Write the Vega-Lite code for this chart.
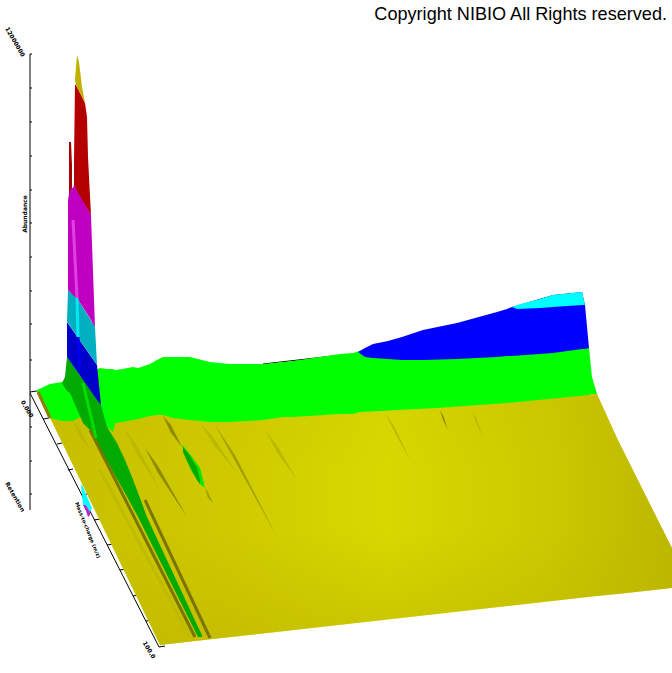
{
"$schema":"https://vega.github.io/schema/vega-lite/v6.json",
"width":672,"height":673,"padding":0,"autosize":{"type":"fit","contains":"padding"},
"background":"white","config":{"view":{"stroke":null}},
"datasets":{
"axes":[
{"x":30,"y":54,"x2":30,"y2":510},{"x":30,"y":393,"x2":159,"y2":647},{"x":30,"y":392,"x2":37,"y2":391},{"x":263,"y":364,"x2":333,"y2":356},
{"x":30,"y":54,"x2":32,"y2":54},{"x":30,"y":88,"x2":32,"y2":88},{"x":30,"y":122,"x2":32,"y2":122},{"x":30,"y":156,"x2":32,"y2":156},{"x":30,"y":190,"x2":32,"y2":190},{"x":30,"y":223,"x2":32,"y2":223},{"x":30,"y":257,"x2":32,"y2":257},{"x":30,"y":291,"x2":32,"y2":291},{"x":30,"y":324,"x2":32,"y2":324},{"x":30,"y":360,"x2":32,"y2":360},{"x":30,"y":427,"x2":32,"y2":427},{"x":30,"y":461,"x2":32,"y2":461},{"x":30,"y":494,"x2":32,"y2":494},
{"x":43,"y":419,"x2":49,"y2":418},{"x":57,"y":444,"x2":62,"y2":443},{"x":68,"y":470,"x2":73,"y2":469},{"x":82,"y":495,"x2":87,"y2":494},{"x":94,"y":520,"x2":100,"y2":519},{"x":107,"y":545,"x2":113,"y2":544},{"x":120,"y":570,"x2":126,"y2":569},{"x":133,"y":596,"x2":139,"y2":595},{"x":146,"y":621,"x2":152,"y2":620},{"x":159,"y":647,"x2":165,"y2":646}
],
"floor":[
{"x":37,"y":391,"y2":391},{"x":160,"y":405,"y2":645},{"x":213,"y":410,"y2":639},{"x":597,"y":394,"y2":596},{"x":618,"y":440,"y2":594},{"x":672,"y":548,"y2":588}
],
"lens":[
{"id":"a","kind":"strong","x":163,"y":416,"y2":416},{"id":"a","kind":"strong","x":171,"y":425,"y2":433},{"id":"a","kind":"strong","x":182,"y":447,"y2":447},
{"id":"b","kind":"strong","x":145,"y":448,"y2":448},{"id":"b","kind":"strong","x":158,"y":466,"y2":473},{"id":"b","kind":"strong","x":187,"y":517,"y2":517},
{"id":"c","kind":"mid","x":215,"y":425,"y2":425},{"id":"c","kind":"mid","x":235,"y":455,"y2":461},{"id":"c","kind":"mid","x":277,"y":537,"y2":537},
{"id":"d","kind":"faint","x":200,"y":423,"y2":423},{"id":"d","kind":"faint","x":213,"y":437,"y2":444},{"id":"d","kind":"faint","x":237,"y":473,"y2":473},
{"id":"e","kind":"faint","x":265,"y":430,"y2":430},{"id":"e","kind":"faint","x":278,"y":447,"y2":454},{"id":"e","kind":"faint","x":297,"y":480,"y2":480},
{"id":"f","kind":"faint","x":124,"y":428,"y2":428},{"id":"f","kind":"faint","x":136,"y":444,"y2":452},{"id":"f","kind":"faint","x":160,"y":490,"y2":490},
{"id":"g","kind":"faint","x":130,"y":440,"y2":440},{"id":"g","kind":"faint","x":140,"y":452,"y2":459},{"id":"g","kind":"faint","x":155,"y":480,"y2":480},
{"id":"h","kind":"strong","x":440,"y":410,"y2":410},{"id":"h","kind":"strong","x":443,"y":415,"y2":420},{"id":"h","kind":"strong","x":448,"y":430,"y2":430},
{"id":"i","kind":"faint","x":473,"y":413,"y2":413},{"id":"i","kind":"faint","x":476,"y":417,"y2":423},{"id":"i","kind":"faint","x":483,"y":437,"y2":437},
{"id":"j","kind":"mid","x":205,"y":488,"y2":488},{"id":"j","kind":"mid","x":208,"y":492,"y2":498},{"id":"j","kind":"mid","x":213,"y":503,"y2":503},
{"id":"k","kind":"faint","x":73,"y":421,"y2":421},{"id":"k","kind":"faint","x":80,"y":429,"y2":437},{"id":"k","kind":"faint","x":90,"y":450,"y2":450},
{"id":"l","kind":"faint","x":385,"y":412,"y2":412},{"id":"l","kind":"faint","x":395,"y":428,"y2":433},{"id":"l","kind":"faint","x":410,"y":460,"y2":460}
],
"parts":[
{"part":"wall","x":37,"y":390,"y2":391},{"part":"wall","x":50,"y":384,"y2":418},{"part":"wall","x":62,"y":382,"y2":421},{"part":"wall","x":73,"y":380,"y2":421},{"part":"wall","x":100,"y":368,"y2":407},{"part":"wall","x":107,"y":369,"y2":427},{"part":"wall","x":113,"y":369,"y2":432},{"part":"wall","x":115,"y":370,"y2":423},{"part":"wall","x":117,"y":370,"y2":423},{"part":"wall","x":133,"y":367,"y2":420},{"part":"wall","x":138,"y":368,"y2":419},{"part":"wall","x":150,"y":364,"y2":416},{"part":"wall","x":157,"y":360,"y2":415},{"part":"wall","x":163,"y":357,"y2":415},{"part":"wall","x":173,"y":357,"y2":418},{"part":"wall","x":190,"y":357,"y2":420},{"part":"wall","x":210,"y":362,"y2":422},{"part":"wall","x":230,"y":364,"y2":422},{"part":"wall","x":247,"y":364,"y2":421},{"part":"wall","x":263,"y":364,"y2":420},{"part":"wall","x":283,"y":362,"y2":417},{"part":"wall","x":293,"y":361,"y2":417},{"part":"wall","x":340,"y":354,"y2":414},{"part":"wall","x":353,"y":353,"y2":414},{"part":"wall","x":360,"y":351,"y2":412},{"part":"wall","x":437,"y":340,"y2":408},{"part":"wall","x":507,"y":340,"y2":403},{"part":"wall","x":589,"y":348,"y2":395},{"part":"wall","x":592,"y":377,"y2":394},{"part":"wall","x":597,"y":394,"y2":394},
{"part":"blue","x":358,"y":352,"y2":352},{"part":"blue","x":365,"y":348,"y2":357},{"part":"blue","x":373,"y":344,"y2":358},{"part":"blue","x":388,"y":341,"y2":359},{"part":"blue","x":402,"y":337,"y2":360},{"part":"blue","x":423,"y":330,"y2":360},{"part":"blue","x":457,"y":323,"y2":359},{"part":"blue","x":497,"y":312,"y2":357},{"part":"blue","x":507,"y":309,"y2":356},{"part":"blue","x":512,"y":307,"y2":356},{"part":"blue","x":553,"y":295,"y2":353},{"part":"blue","x":582,"y":292,"y2":349},{"part":"blue","x":585,"y":305,"y2":349},{"part":"blue","x":589,"y":348,"y2":348},
{"part":"cyan","x":512,"y":307,"y2":307},{"part":"cyan","x":517,"y":305,"y2":309},{"part":"cyan","x":540,"y":299,"y2":308},{"part":"cyan","x":553,"y":295,"y2":307},{"part":"cyan","x":582,"y":292,"y2":305},{"part":"cyan","x":585,"y":305,"y2":305},
{"part":"blob","x":182,"y":445,"y2":445},{"part":"blob","x":185,"y":448,"y2":457},{"part":"blob","x":192,"y":457,"y2":472},{"part":"blob","x":200,"y":468,"y2":484},{"part":"blob","x":205,"y":488,"y2":488},
{"part":"blobDark","x":183,"y":447,"y2":452},{"part":"blobDark","x":190,"y":456,"y2":467},{"part":"blobDark","x":197,"y":468,"y2":480},{"part":"blobDark","x":200,"y":480,"y2":484},
{"part":"darkGreen","x":62,"y":383,"y2":383},{"part":"darkGreen","x":65,"y":377,"y2":388},{"part":"darkGreen","x":67,"y":357,"y2":391},{"part":"darkGreen","x":70,"y":361,"y2":393},{"part":"darkGreen","x":83,"y":380,"y2":423},{"part":"darkGreen","x":90,"y":390,"y2":430},{"part":"darkGreen","x":101,"y":405,"y2":450},{"part":"darkGreen","x":107,"y":427,"y2":461},{"part":"darkGreen","x":117,"y":443,"y2":479},{"part":"darkGreen","x":125,"y":460,"y2":493},{"part":"darkGreen","x":132,"y":477,"y2":506},{"part":"darkGreen","x":137,"y":490,"y2":515},{"part":"darkGreen","x":147,"y":517,"y2":535},{"part":"darkGreen","x":166,"y":558,"y2":573},{"part":"darkGreen","x":173,"y":573,"y2":587},{"part":"darkGreen","x":198,"y":627,"y2":637},{"part":"darkGreen","x":202,"y":635,"y2":637},
{"part":"navy","x":67,"y":322,"y2":357},{"part":"navy","x":97,"y":365,"y2":400},{"part":"navy","x":101,"y":405,"y2":405},
{"part":"teal","x":67,"y":322,"y2":322},{"part":"teal","x":68,"y":290,"y2":323},{"part":"teal","x":77,"y":298,"y2":336},{"part":"teal","x":95,"y":327,"y2":362},{"part":"teal","x":97,"y":365,"y2":365},
{"part":"magenta","x":68,"y":200,"y2":290},{"part":"magenta","x":70,"y":188,"y2":292},{"part":"magenta","x":73,"y":188,"y2":295},{"part":"magenta","x":74,"y":185,"y2":296},{"part":"magenta","x":77,"y":190,"y2":298},{"part":"magenta","x":91,"y":215,"y2":320},{"part":"magenta","x":93,"y":271,"y2":324},{"part":"magenta","x":95,"y":327,"y2":327},
{"part":"red","x":74,"y":160,"y2":185},{"part":"red","x":75,"y":85,"y2":187},{"part":"red","x":76,"y":85,"y2":189},{"part":"red","x":85,"y":103,"y2":205},{"part":"red","x":87,"y":117,"y2":208},{"part":"red","x":88,"y":157,"y2":210},{"part":"red","x":91,"y":215,"y2":215},
{"part":"spike","x":69,"y":142,"y2":195},{"part":"spike","x":71,"y":142,"y2":188},{"part":"spike","x":72,"y":165,"y2":188},
{"part":"gold","x":75,"y":80,"y2":80},{"part":"gold","x":76,"y":67,"y2":85},{"part":"gold","x":77,"y":55,"y2":87},{"part":"gold","x":79,"y":62,"y2":91},{"part":"gold","x":82,"y":87,"y2":97},{"part":"gold","x":85,"y":103,"y2":103},
{"part":"sliverCyan","x":81,"y":484,"y2":484},{"part":"sliverCyan","x":83,"y":487,"y2":505},{"part":"sliverCyan","x":90,"y":504,"y2":512},{"part":"sliverCyan","x":92,"y":508,"y2":508},
{"part":"sliverMagenta","x":83,"y":505,"y2":505},{"part":"sliverMagenta","x":86,"y":505,"y2":511},{"part":"sliverMagenta","x":88,"y":509,"y2":517},{"part":"sliverMagenta","x":90,"y":512,"y2":515}
],
"streaks":[
{"kind":"edge","x":90,"y":430,"x2":195,"y2":637},{"kind":"edge","x":145,"y":500,"x2":210,"y2":638},{"kind":"rim","x":38,"y":392,"x2":50,"y2":418},
{"kind":"soft","x":100,"y":470,"x2":190,"y2":637},
{"kind":"hiMagenta","x":73,"y":220,"x2":77,"y2":298},{"kind":"hiCyan","x":77,"y":298,"x2":78,"y2":337},{"kind":"hiBlue","x":78,"y":337,"x2":80,"y2":370},{"kind":"hiGreen","x":83,"y":383,"x2":96,"y2":438}
],
"labels60":[{"t":"12000000","x":15,"y":42},{"t":"0.000","x":27,"y":409},{"t":"Retention","x":15,"y":497},{"t":"100.0","x":149,"y":650}],
"labels68":[{"t":"Mass-to-charge (m/z)","x":88,"y":530}],
"labels270":[{"t":"Abundance","x":25,"y":214}]
},
"encoding":{
"x":{"field":"x","type":"quantitative","scale":{"domain":[0,672],"nice":false,"zero":false},"axis":null},
"y":{"field":"y","type":"quantitative","scale":{"domain":[0,673],"reverse":true,"nice":false,"zero":false},"axis":null}
},
"layer":[
{"data":{"name":"axes"},"mark":{"type":"rule","color":"black","strokeWidth":1},"encoding":{"x2":{"field":"x2"},"y2":{"field":"y2"}}},
{"data":{"name":"floor"},"mark":{"type":"area","interpolate":"linear","color":{"gradient":"linear","x1":0,"y1":0,"x2":1,"y2":0,"stops":[{"offset":0,"color":"#c6be00"},{"offset":0.3,"color":"#cfca00"},{"offset":0.55,"color":"#d8d800"},{"offset":0.8,"color":"#cdc900"},{"offset":1,"color":"#bdb700"}]}},"encoding":{"y2":{"field":"y2"}}},
{"data":{"name":"floor"},"mark":{"type":"area","interpolate":"linear","color":{"gradient":"linear","x1":0,"y1":0,"x2":0,"y2":1,"stops":[{"offset":0,"color":"rgba(190,182,0,0.12)"},{"offset":0.3,"color":"rgba(190,182,0,0)"},{"offset":0.55,"color":"rgba(190,182,0,0)"},{"offset":1,"color":"rgba(190,182,0,0.6)"}]}},"encoding":{"y2":{"field":"y2"}}},
{"data":{"name":"lens"},"mark":{"type":"area","interpolate":"linear"},"encoding":{"y2":{"field":"y2"},"detail":{"field":"id"},
"color":{"field":"kind","type":"nominal","legend":null,"scale":{"domain":["strong","mid","faint"],"range":["#8f8a00","#a5a000","#bcb800"]}}}},
{"data":{"name":"parts"},"mark":{"type":"area","interpolate":"linear"},"encoding":{"y2":{"field":"y2"},
"color":{"field":"part","type":"nominal","legend":null,"scale":{"domain":["wall","blue","cyan","blob","blobDark","darkGreen","navy","teal","magenta","red","spike","gold","sliverCyan","sliverMagenta"],"range":["#00ff00","#0000ff","#00ffff","#00e800","#00a800","#00aa00","#0000c8","#00b0c0","#c000c0","#b40000","#a80000","#c0b000","#00ffff","#c020d0"]}}}},
{"data":{"name":"streaks"},"mark":{"type":"rule"},"encoding":{"x2":{"field":"x2"},"y2":{"field":"y2"},
"color":{"field":"kind","type":"nominal","legend":null,"scale":{"domain":["edge","rim","soft","hiMagenta","hiCyan","hiBlue","hiGreen"],"range":["#7a7400","#8a8000","#c0ba00","#e040e0","#00e8f0","#0000f0","#00e000"]}},
"strokeWidth":{"field":"kind","type":"nominal","legend":null,"scale":{"domain":["edge","rim","soft","hiMagenta","hiCyan","hiBlue","hiGreen"],"range":[3,3,2,1,1,1,2]}}}},
{"data":{"name":"labels60"},"mark":{"type":"text","angle":60,"font":"DejaVu Sans","fontWeight":"bold","fontSize":6,"align":"center","baseline":"middle","color":"black"},"encoding":{"text":{"field":"t"}}},
{"data":{"name":"labels68"},"mark":{"type":"text","angle":68,"font":"DejaVu Sans","fontWeight":"bold","fontSize":5,"align":"center","baseline":"middle","color":"black"},"encoding":{"text":{"field":"t"}}},
{"data":{"name":"labels270"},"mark":{"type":"text","angle":270,"font":"DejaVu Sans","fontWeight":"bold","fontSize":6,"align":"center","baseline":"middle","color":"black"},"encoding":{"text":{"field":"t"}}},
{"data":{"values":[{"t":"Copyright NIBIO All Rights reserved.","x":667,"y":20}]},"mark":{"type":"text","font":"Liberation Sans","fontSize":18.1,"align":"right","baseline":"alphabetic","color":"black"},"encoding":{"text":{"field":"t"}}}
],
"resolve":{"scale":{"color":"independent","strokeWidth":"independent"}}
}
